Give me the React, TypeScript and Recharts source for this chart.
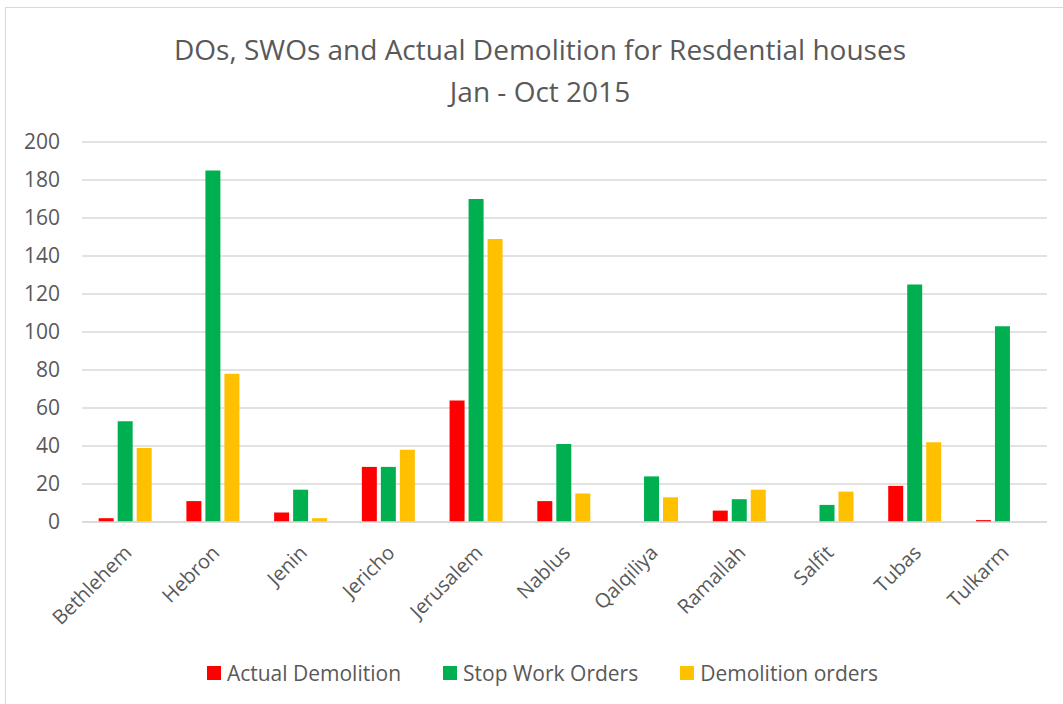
import React from 'react';
import { Bar, BarChart, CartesianGrid, Legend, XAxis, YAxis } from 'recharts';

const categories = ['Bethlehem', 'Hebron', 'Jenin', 'Jericho', 'Jerusalem', 'Nablus', 'Qalqiliya', 'Ramallah', 'Salfit', 'Tubas', 'Tulkarm'];
const actualDemolition = [2, 11, 5, 29, 64, 11, 0, 6, 0, 19, 1];
const stopWorkOrders = [53, 185, 17, 29, 170, 41, 24, 12, 9, 125, 103];
const demolitionOrders = [39, 78, 2, 38, 149, 15, 13, 17, 16, 42, 0];
const yTicks = [0, 20, 40, 60, 80, 100, 120, 140, 160, 180, 200];
const seriesNames = ['Actual Demolition', 'Stop Work Orders', 'Demolition orders'];

const data = categories.map((name, i) => ({
  name,
  actual: actualDemolition[i],
  swo: stopWorkOrders[i],
  dos: demolitionOrders[i],
}));

const FONT = '"Open Sans", sans-serif';
const TEXT = '#595959';

function AngledTick(props: any) {
  const { x, y, payload } = props;
  return (
    <g transform={`translate(${x},${y})`}>
      <text x={7} y={24} textAnchor="end" fill={TEXT} fontSize={20} fontFamily={FONT} transform="rotate(-45, 7, 24)">
        {payload.value}
      </text>
    </g>
  );
}

function LegendBox({ payload }: any) {
  const items = [...(payload || [])].sort((a: any, b: any) => seriesNames.indexOf(a.value) - seriesNames.indexOf(b.value));
  return (
    <div style={{ display: 'flex', justifyContent: 'center', gap: 42, fontFamily: FONT, fontSize: 21, color: TEXT, marginLeft: 22 }}>
      {items.map((p: any) => (
        <div key={p.value} style={{ display: 'flex', alignItems: 'center' }}>
          <span style={{ display: 'inline-block', width: 14, height: 14, background: p.color, marginRight: 6 }} />
          <span>{p.value}</span>
        </div>
      ))}
    </div>
  );
}

export default function App() {
  return (
    <div style={{ position: 'absolute', left: 0, top: 0, width: 1063, height: 704, background: '#fff', overflow: 'hidden' }}>
      <div style={{ position: 'absolute', left: 5, top: 7, width: 1070, height: 710, border: '1px solid #d9d9d9' }} />
      <div style={{ position: 'absolute', left: 0, top: 28, width: 1080, textAlign: 'center', fontFamily: FONT, fontSize: 28, color: TEXT, lineHeight: '42px' }}>
        DOs, SWOs and Actual Demolition for Resdential houses
        <br />
        Jan - Oct 2015
      </div>
      <div style={{ position: 'absolute', left: 0, top: 0 }}>
        <BarChart width={1063} height={704} data={data} margin={{ top: 142, right: 16, left: 0, bottom: 82 }} barCategoryGap="19%" barGap={4}>
          <CartesianGrid vertical={false} stroke="#d9d9d9" strokeWidth={1.5} />
          <XAxis dataKey="name" height={100} interval={0} axisLine={{ stroke: '#d9d9d9', strokeWidth: 1.5 }} tickLine={false} tick={<AngledTick />} />
          <YAxis width={82} domain={[0, 200]} ticks={yTicks} axisLine={false} tickLine={false} tickSize={0} tickMargin={22} tick={{ fill: TEXT, fontSize: 21, fontFamily: FONT }} />
          <Legend layout="horizontal" verticalAlign="middle" align="center" wrapperStyle={{ top: 659, left: 0, width: 1063 }} content={<LegendBox />} />
          <Bar dataKey="actual" name="Actual Demolition" fill="#ff0000" isAnimationActive={false} />
          <Bar dataKey="swo" name="Stop Work Orders" fill="#00b050" isAnimationActive={false} />
          <Bar dataKey="dos" name="Demolition orders" fill="#ffc000" isAnimationActive={false} />
        </BarChart>
      </div>
    </div>
  );
}
